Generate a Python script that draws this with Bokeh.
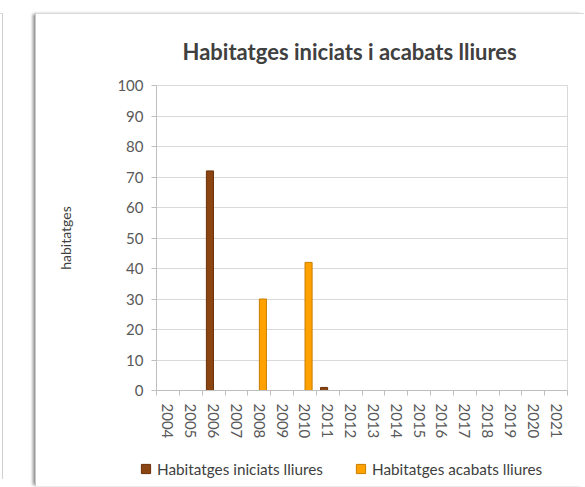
from bokeh.plotting import figure
from bokeh.models import FixedTicker, Legend, LegendItem, ColumnDataSource, Range1d, Div
from bokeh.layouts import column, row
from bokeh.embed import file_html
from bokeh.resources import INLINE

years = ["2004", "2005", "2006", "2007", "2008", "2009", "2010", "2011", "2012",
         "2013", "2014", "2015", "2016", "2017", "2018", "2019", "2020", "2021"]
iniciats = [0, 0, 72, 0, 0, 0, 0, 1, 0, 0, 0, 0, 0, 0, 0, 0, 0, 0]
acabats = [0, 0, 0, 0, 30, 0, 42, 0, 0, 0, 0, 0, 0, 0, 0, 0, 0, 0]
y_ticks = [0, 10, 20, 30, 40, 50, 60, 70, 80, 90, 100]

series_names = ["Habitatges iniciats lliures", "Habitatges acabats lliures"]
series_fill = ["#8b4513", "#ffa200"]
series_line = ["#6a3008", "#c87d00"]
title_text = "Habitatges iniciats i acabats lliures"
y_label = "habitatges"

FONT = "Lato"
n = len(years)
dodge = 0.16
bar_w = 0.31
W = 548

p = figure(width=W, height=427, output_backend="svg", toolbar_location=None,
           x_range=Range1d(0, n), y_range=Range1d(0, 100),
           min_border_left=120, min_border_top=70, min_border_right=17, min_border_bottom=45)
p.frame_align = False

p.title.text = title_text
p.title.align = "left"
p.title.text_font = FONT
p.title.text_font_size = "22px"
p.title.text_font_style = "bold"
p.title.text_color = "#404040"
p.title.offset = 26
p.title.standoff = 42

p.background_fill_color = "white"
p.border_fill_color = "white"
p.outline_line_color = "#d9d9d9"
p.outline_line_width = 1

def nz_source(vals, off):
    xs, tops = [], []
    for i, v in enumerate(vals):
        if v > 0:
            xs.append(i + 0.5 + off)
            tops.append(v)
    return ColumnDataSource(dict(x=xs, top=tops))

src_i = nz_source(iniciats, -dodge)
src_a = nz_source(acabats, dodge)
p.vbar(x="x", top="top", width=bar_w, bottom=0, source=src_i,
       fill_color=series_fill[0], line_color=series_line[0], line_width=1)
p.vbar(x="x", top="top", width=bar_w, bottom=0, source=src_a,
       fill_color=series_fill[1], line_color=series_line[1], line_width=1)

# x axis
centers = [i + 0.5 for i in range(n)]
bounds = list(range(n + 1))
p.xaxis.ticker = FixedTicker(ticks=centers, minor_ticks=bounds)
p.xaxis.major_label_overrides = {c: y for c, y in zip(centers, years)}
p.xaxis.major_label_orientation = "vertical"
p.xaxis.major_tick_line_color = None
p.xaxis.minor_tick_line_color = "#bfbfbf"
p.xaxis.minor_tick_out = 5
p.xaxis.minor_tick_in = 0
p.xaxis.axis_line_color = "#bfbfbf"
p.xaxis.major_label_text_font = FONT
p.xaxis.major_label_text_font_size = "15px"
p.xaxis.major_label_text_color = "#595959"
p.xaxis.major_label_standoff = 7
p.xgrid.grid_line_color = None

# y axis
p.yaxis.ticker = FixedTicker(ticks=y_ticks)
p.yaxis.axis_line_color = "#bfbfbf"
p.yaxis.major_tick_line_color = "#bfbfbf"
p.yaxis.major_tick_out = 5
p.yaxis.major_tick_in = 0
p.yaxis.minor_tick_line_color = None
p.yaxis.major_label_text_font = FONT
p.yaxis.major_label_text_font_size = "15px"
p.yaxis.major_label_text_color = "#595959"
p.yaxis.major_label_standoff = 8
p.yaxis.axis_label = y_label
p.yaxis.axis_label_text_font = FONT
p.yaxis.axis_label_text_font_size = "14px"
p.yaxis.axis_label_text_font_style = "normal"
p.yaxis.axis_label_text_color = "#404040"
p.yaxis.axis_label_standoff = 40
p.ygrid.grid_line_color = "#d9d9d9"
p.ygrid.grid_line_width = 1

# legend strip (separate figure so the legend can sit left of the plot frame)
pl = figure(width=W, height=45, output_backend="svg", toolbar_location=None,
            x_range=Range1d(0, 1), y_range=Range1d(0, 1), x_axis_type=None, y_axis_type=None,
            min_border=0)
pl.frame_align = False
pl.outline_line_color = None
pl.grid.grid_line_color = None
pl.background_fill_color = "white"
pl.border_fill_color = "white"
items = []
for name, fc, lc, src in zip(series_names, series_fill, series_line, [src_i, src_a]):
    # same data as the bars; lies outside this strip's ranges, only feeds the legend glyph
    r = pl.scatter(x="x", y="top", source=src, marker="square", size=9,
                   fill_color=fc, line_color=lc)
    items.append(LegendItem(label=name, renderers=[r], index=0))
legend = Legend(items=items, orientation="horizontal", location=(98, 6),
                glyph_width=23, glyph_height=23, label_height=23, label_standoff=-3, spacing=26,
                padding=0, margin=0, border_line_color=None, background_fill_alpha=0,
                label_text_font=FONT, label_text_font_size="15.3px", label_text_color="#404040")
pl.add_layout(legend, "center")

chart = column(p, pl, spacing=0)
chart.margin = (13, 0, 0, 32)
chart.styles = {"border-left": "1px solid #c8c8c8", "border-top": "1px solid #d9d9d9",
                "box-shadow": "-3px 0px 3px -1px #8a8a8a", "background-color": "white"}

side = Div(text="", width=3, height=466, margin=(13, 0, 0, 0),
           styles={"border-right": "1px solid #d0d0d0", "border-top": "1px solid #d9d9d9"})

page = row(side, chart, spacing=0)

open("out.html", "w").write(file_html(page, INLINE))
